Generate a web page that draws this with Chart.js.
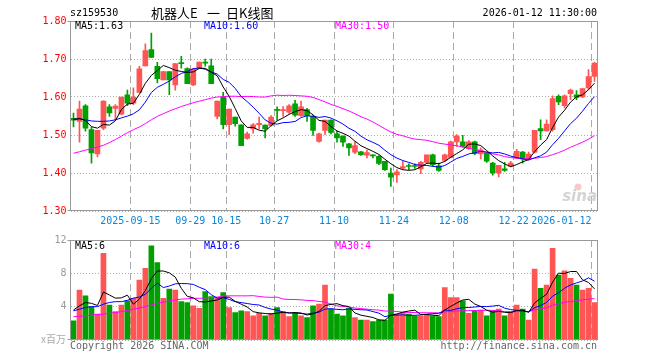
<!DOCTYPE html>
<html>
<head>
<meta charset="utf-8">
<script src="https://cdn.jsdelivr.net/npm/chart.js@4.4.1/dist/chart.umd.min.js"></script>
<style>
  html, body { margin: 0; padding: 0; background: #fff; }
  #wrap { position: relative; width: 660px; height: 360px; }
  canvas { position: absolute; left: 0; }
  #priceChart { top: 0; }
  #volChart { top: 232px; }
</style>
</head>
<body>
<div id="wrap">
  <canvas id="priceChart" width="660" height="232"></canvas>
  <canvas id="volChart" width="660" height="128"></canvas>
</div>
<script>
// trading days in the window
const dates = [
  '2025-09-01','2025-09-02','2025-09-03','2025-09-04','2025-09-05','2025-09-08','2025-09-09','2025-09-10','2025-09-11','2025-09-12',
  '2025-09-15','2025-09-16','2025-09-17','2025-09-18','2025-09-19','2025-09-22','2025-09-23','2025-09-24','2025-09-25','2025-09-26',
  '2025-09-29','2025-09-30','2025-10-09','2025-10-10','2025-10-13','2025-10-14','2025-10-15','2025-10-16','2025-10-17','2025-10-20',
  '2025-10-21','2025-10-22','2025-10-23','2025-10-24','2025-10-27','2025-10-28','2025-10-29','2025-10-30','2025-10-31','2025-11-03',
  '2025-11-04','2025-11-05','2025-11-06','2025-11-07','2025-11-10','2025-11-11','2025-11-12','2025-11-13','2025-11-14','2025-11-17',
  '2025-11-18','2025-11-19','2025-11-20','2025-11-21','2025-11-24','2025-11-25','2025-11-26','2025-11-27','2025-11-28','2025-12-01',
  '2025-12-02','2025-12-03','2025-12-04','2025-12-05','2025-12-08','2025-12-09','2025-12-10','2025-12-11','2025-12-12','2025-12-15',
  '2025-12-16','2025-12-17','2025-12-18','2025-12-19','2025-12-22','2025-12-23','2025-12-24','2025-12-25','2025-12-26','2025-12-29',
  '2025-12-30','2025-12-31','2026-01-05','2026-01-06','2026-01-07','2026-01-08','2026-01-09','2026-01-12'
];

const opens = [
  1.544,1.536,1.577,1.514,1.450,1.518,1.574,1.570,1.555,1.606,
  1.584,1.612,1.682,1.725,1.681,1.645,1.667,1.632,1.690,1.675,
  1.632,1.676,1.692,1.682,1.549,1.600,1.527,1.547,1.527,1.491,
  1.516,1.527,1.526,1.525,1.566,1.564,1.560,1.582,1.551,1.567,
  1.549,1.483,1.512,1.539,1.503,1.497,1.477,1.455,1.456,1.447,
  1.446,1.444,1.431,1.400,1.395,1.413,1.418,1.418,1.411,1.428,
  1.448,1.419,1.433,1.441,1.482,1.482,1.464,1.482,1.450,1.453,
  1.426,1.400,1.411,1.418,1.440,1.455,1.437,1.455,1.517,1.511,
  1.514,1.602,1.577,1.609,1.606,1.600,1.624,1.654
];
const highs = [
  1.558,1.589,1.580,1.521,1.512,1.590,1.580,1.580,1.600,1.618,
  1.624,1.681,1.740,1.768,1.691,1.667,1.667,1.688,1.707,1.677,
  1.674,1.692,1.700,1.700,1.589,1.612,1.568,1.547,1.527,1.508,
  1.530,1.547,1.527,1.551,1.574,1.575,1.580,1.591,1.589,1.570,
  1.551,1.505,1.539,1.540,1.510,1.498,1.478,1.483,1.457,1.460,
  1.448,1.446,1.431,1.413,1.409,1.431,1.424,1.424,1.431,1.432,
  1.450,1.426,1.450,1.484,1.501,1.499,1.485,1.484,1.466,1.455,
  1.428,1.420,1.428,1.431,1.462,1.457,1.455,1.512,1.540,1.540,
  1.603,1.606,1.606,1.621,1.617,1.622,1.672,1.691
];
const lows = [
  1.521,1.481,1.510,1.426,1.442,1.514,1.549,1.540,1.553,1.577,
  1.580,1.612,1.682,1.704,1.637,1.645,1.606,1.618,1.676,1.635,
  1.630,1.676,1.681,1.635,1.542,1.516,1.501,1.523,1.472,1.489,
  1.505,1.516,1.492,1.523,1.539,1.549,1.557,1.549,1.549,1.536,
  1.499,1.481,1.501,1.503,1.481,1.470,1.446,1.451,1.446,1.440,
  1.440,1.422,1.407,1.365,1.375,1.410,1.409,1.412,1.398,1.426,
  1.418,1.404,1.430,1.440,1.470,1.468,1.462,1.448,1.437,1.428,
  1.394,1.390,1.404,1.416,1.438,1.426,1.435,1.453,1.488,1.510,
  1.510,1.580,1.571,1.593,1.593,1.598,1.619,1.641
];
const closes = [
  1.539,1.568,1.518,1.453,1.512,1.589,1.558,1.576,1.600,1.584,
  1.600,1.674,1.722,1.704,1.648,1.667,1.645,1.688,1.688,1.635,
  1.674,1.692,1.689,1.635,1.589,1.527,1.568,1.530,1.472,1.503,
  1.527,1.531,1.516,1.547,1.565,1.566,1.577,1.552,1.574,1.551,
  1.512,1.503,1.539,1.507,1.492,1.481,1.466,1.472,1.448,1.454,
  1.445,1.425,1.409,1.389,1.403,1.417,1.417,1.417,1.428,1.448,
  1.422,1.407,1.448,1.482,1.497,1.470,1.482,1.451,1.461,1.431,
  1.400,1.420,1.407,1.426,1.457,1.437,1.450,1.512,1.511,1.529,
  1.596,1.587,1.603,1.618,1.599,1.622,1.654,1.689
];
// volume, millions
const volumes = [
  2.3,6.0,5.3,4.0,3.1,10.4,4.2,3.4,4.2,4.7,
  5.0,7.2,8.6,11.3,9.3,5.0,6.1,6.0,4.6,4.5,
  4.1,3.8,5.8,5.2,5.1,5.7,3.9,3.3,3.5,3.4,
  2.9,3.2,2.9,3.2,3.9,3.4,2.8,3.2,2.9,2.7,
  4.1,4.3,6.6,3.7,3.1,2.9,3.8,2.7,2.4,2.4,
  2.2,2.4,2.4,5.5,3.1,3.3,3.1,2.9,2.9,3.1,
  2.9,2.8,6.3,5.1,5.1,4.7,3.2,3.5,3.6,2.9,
  3.5,3.7,2.9,3.4,4.2,3.7,2.4,8.5,6.2,6.6,
  11.0,7.8,8.3,7.4,6.6,6.0,6.2,4.5
];

// first MA points depend on days before the window
const ma5Head = [1.540, 1.544, 1.538, 1.522];
const ma10Head = [1.542, 1.542, 1.540, 1.537, 1.536, 1.536, 1.537, 1.540, 1.545];
const ma30Head = [1.452,1.456,1.460,1.464,1.468,1.473,1.480,1.488,1.497,1.506,
  1.514,1.521,1.530,1.540,1.549,1.556,1.563,1.569,1.575,1.580,
  1.585,1.589,1.593,1.597,1.600,1.601,1.602,1.602,1.601];
const volMa5Head = [3.6, 4.1, 4.5, 4.4];
const volMa10Head = [3.5, 3.7, 3.9, 4.0, 4.0, 4.3, 4.5, 4.6, 4.6];
const volMa30Head = [2.8,2.85,2.9,3.0,3.05,3.1,3.2,3.3,3.4,3.55,
  3.7,3.85,4.0,4.2,4.4,4.55,4.7,4.8,4.9,4.95,
  5.0,5.0,5.05,5.1,5.15,5.25,5.3,5.3,5.3];

// dates with a dashed line and a label under the axis
const tickDates = ['2025-09-15','2025-09-29','2025-10-15','2025-10-27','2025-11-10','2025-11-24','2025-12-08','2025-12-22','2026-01-12'];
const tickLabels = ['2025-09-15','09-29','10-15','10-27','11-10','11-24','12-08','12-22','2026-01-12'];

const UP = '#ff5555';
const DOWN = '#00a000';
const MONO = '"DejaVu Sans Mono", monospace';
const CJK = '"Noto Sans CJK SC", sans-serif';

function movingAvg(values, n, head) {
  return values.map((v, i) => {
    if (i < head.length) return head[i];
    let sum = 0;
    for (let k = i - n + 1; k <= i; k++) sum += values[k];
    return sum / n;
  });
}

const colors = closes.map((c, i) => c >= opens[i] ? UP : DOWN);
const ma5 = movingAvg(closes, 5, ma5Head);
const ma10 = movingAvg(closes, 10, ma10Head);
const ma30 = movingAvg(closes, 30, ma30Head);
const vma5 = movingAvg(volumes, 5, volMa5Head);
const vma10 = movingAvg(volumes, 10, volMa10Head);
const vma30 = movingAvg(volumes, 30, volMa30Head);

Chart.defaults.font.family = MONO;
Chart.defaults.font.size = 10;
Chart.defaults.animation = false;

function isTick(i) {
  return tickDates.indexOf(dates[i]) >= 0;
}

function maLine(data, color) {
  return { type: 'line', data: data, borderColor: color, borderWidth: 1,
           pointRadius: 0, tension: 0, order: 0 };
}

// grey frame round the plot, small corner ticks
const framePlugin = {
  id: 'frame',
  afterDatasetsDraw(chart) {
    const a = chart.chartArea;
    const ctx = chart.ctx;
    ctx.save();
    ctx.strokeStyle = '#999';
    ctx.lineWidth = 1;
    const l = Math.floor(a.left) + 0.5, r = Math.floor(a.right) + 0.5;
    const t = Math.round(a.top) + 0.5, b = Math.round(a.bottom) - 0.5;
    ctx.strokeRect(l, t, r - l, b - t);
    ctx.beginPath();
    ctx.moveTo(l - 3, t); ctx.lineTo(l, t);
    ctx.moveTo(l - 3, b); ctx.lineTo(l, b);
    ctx.stroke();
    ctx.restore();
  }
};

function text(ctx, s, x, y, color, font, align) {
  ctx.font = font;
  ctx.fillStyle = color;
  ctx.textAlign = align || 'left';
  ctx.textBaseline = 'middle';
  ctx.fillText(s, x, y);
}

const priceText = {
  id: 'priceText',
  beforeDatasetsDraw(chart) {
    // sina watermark
    const ctx = chart.ctx;
    ctx.save();
    ctx.fillStyle = 'rgba(240,150,150,0.5)';
    ctx.beginPath();
    ctx.arc(578, 187, 3.5, 0, Math.PI * 2);
    ctx.fill();
    text(ctx, 'sina', 597, 197, '#d4d4d4', 'italic bold 15px "DejaVu Sans"', 'right');
    ctx.restore();
  },
  afterDraw(chart) {
    const ctx = chart.ctx;
    ctx.save();
    text(ctx, 'sz159530', 70, 13, '#000', '10px ' + MONO);
    text(ctx, '机器人E', 151, 13, '#000', '13px ' + CJK);
    text(ctx, '一', 207, 13, '#000', '13px ' + CJK);
    text(ctx, '日K线图', 226, 13, '#000', '13px ' + CJK);
    text(ctx, '2026-01-12 11:30:00', 597, 13, '#000', '10px ' + MONO, 'right');
    text(ctx, 'MA5:1.63', 75, 26, '#000', '10px ' + MONO);
    text(ctx, 'MA10:1.60', 204, 26, '#0000ff', '10px ' + MONO);
    text(ctx, 'MA30:1.50', 335, 26, '#ff00ff', '10px ' + MONO);
    ctx.restore();
  }
};

const volText = {
  id: 'volText',
  afterDraw(chart) {
    const ctx = chart.ctx;
    ctx.save();
    text(ctx, 'MA5:6', 75, 14, '#000', '10px ' + MONO);
    text(ctx, 'MA10:6', 204, 14, '#0000ff', '10px ' + MONO);
    text(ctx, 'MA30:4', 335, 14, '#ff00ff', '10px ' + MONO);
    text(ctx, 'x百万', 66, 107, '#aaa', '10px ' + CJK, 'right');
    text(ctx, 'Copyright 2026 SINA.COM', 70, 114, '#666', '10px ' + MONO);
    text(ctx, 'http://finance.sina.com.cn', 597, 114, '#666', '10px ' + MONO, 'right');
    ctx.restore();
  }
};

const xGrid = {
  offset: true,
  drawTicks: false,
  color: (c) => isTick(c.index) ? '#aaa' : 'rgba(0,0,0,0)'
};

const priceChart = new Chart(document.getElementById('priceChart'), {
  type: 'bar',
  data: {
    labels: dates,
    datasets: [
      { data: lows.map((l, i) => [l, highs[i]]), backgroundColor: colors,
        barThickness: 1, grouped: false, order: 3 },
      { data: opens.map((o, i) => [o, closes[i]]), backgroundColor: colors,
        barThickness: 5, minBarLength: 1, grouped: false, order: 2 },
      maLine(ma5, '#000'),
      maLine(ma10, '#0000ff'),
      maLine(ma30, '#ff00ff')
    ]
  },
  options: {
    responsive: false,
    devicePixelRatio: 1,
    events: [],
    layout: { padding: { top: 21, right: 62.5, left: 0.5, bottom: 0 } },
    plugins: { legend: { display: false }, tooltip: { enabled: false } },
    scales: {
      x: {
        grid: xGrid,
        border: { display: false, dash: [7, 4] },
        ticks: {
          autoSkip: false, maxRotation: 0, minRotation: 0,
          padding: 4, labelOffset: -3, color: '#0a86d8',
          callback: (v, i) => {
            const k = tickDates.indexOf(dates[i]);
            if (k < 0) return '';
            // last label sits left of its line
            return k === tickDates.length - 1 ? tickLabels[k] + ' '.repeat(10) : tickLabels[k];
          }
        },
        afterFit: (s) => { s.height = 21; s.paddingLeft = 0; s.paddingRight = 0; }
      },
      y: {
        min: 1.30, max: 1.80,
        grid: { color: '#b0b0b0', tickLength: 3, tickColor: 'rgba(0,0,0,0)' },
        border: { display: false, dash: [1, 2] },
        ticks: { stepSize: 0.1, padding: 1, color: '#ff0000',
                 callback: (v) => v.toFixed(2) },
        afterFit: (s) => { s.width = 70; }
      }
    }
  },
  plugins: [priceText, framePlugin]
});

const volChart = new Chart(document.getElementById('volChart'), {
  type: 'bar',
  data: {
    labels: dates,
    datasets: [
      { data: volumes, backgroundColor: colors, barThickness: 5, grouped: false, order: 2 },
      maLine(vma5, '#000'),
      maLine(vma10, '#0000ff'),
      maLine(vma30, '#ff00ff')
    ]
  },
  options: {
    responsive: false,
    devicePixelRatio: 1,
    events: [],
    layout: { padding: { top: 8, right: 62.5, left: 0.5, bottom: 0 } },
    plugins: { legend: { display: false }, tooltip: { enabled: false } },
    scales: {
      x: {
        grid: xGrid,
        border: { display: false, dash: [7, 4] },
        ticks: { display: false },
        afterFit: (s) => { s.height = 20; s.paddingLeft = 0; s.paddingRight = 0; }
      },
      y: {
        min: 0, max: 12,
        grid: { color: '#b0b0b0', tickLength: 3, tickColor: 'rgba(0,0,0,0)' },
        border: { display: false, dash: [1, 2] },
        ticks: { stepSize: 4, padding: 1, color: '#999',
                 callback: (v) => v === 0 ? '' : String(v) },
        afterFit: (s) => { s.width = 70; }
      }
    }
  },
  plugins: [volText, framePlugin]
});
</script>
</body>
</html>
